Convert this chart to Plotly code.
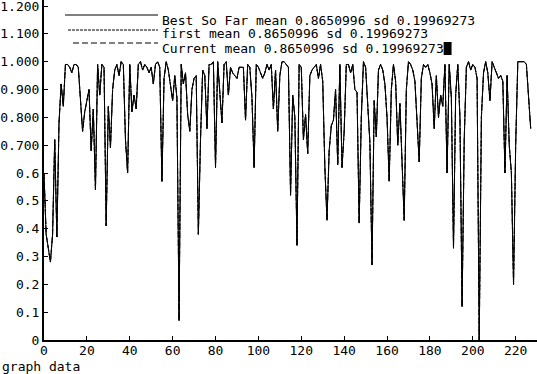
import plotly.graph_objects as go

# ---- data ----
values = [
    0.60, 0.38, 0.33, 0.28, 0.38, 0.72, 0.37, 0.78, 0.92, 0.84,
    0.99, 0.99, 0.98, 0.96, 0.99, 0.99, 0.98, 0.86, 0.75, 0.82,
    0.86, 0.90, 0.68, 0.83, 0.54, 0.99, 0.88, 0.99, 0.98, 0.41,
    0.84, 0.69, 0.90, 0.97, 0.99, 0.95, 1.00, 0.99, 0.72, 0.60,
    0.99, 0.82, 0.88, 0.83, 0.99, 1.00, 0.97, 0.99, 0.98, 0.96,
    0.98, 0.92, 0.99, 1.00, 0.98, 0.57, 0.94, 1.00, 0.97, 0.92,
    0.86, 0.95, 0.87, 0.07, 0.99, 0.92, 0.96, 0.81, 0.75, 0.90,
    0.94, 0.95, 0.38, 0.72, 0.97, 0.95, 0.76, 0.99, 0.99, 1.00,
    0.62, 1.00, 0.88, 0.78, 0.99, 1.00, 0.88, 0.98, 0.96, 0.95,
    0.94, 0.98, 0.98, 0.98, 0.79, 0.99, 0.98, 0.87, 0.62, 0.99,
    0.98, 0.96, 0.94, 0.96, 0.99, 0.97, 0.99, 0.83, 0.97, 0.75,
    0.95, 1.00, 1.00, 0.99, 0.98, 0.52, 0.88, 0.80, 0.34, 0.99,
    0.98, 0.72, 0.81, 0.67, 0.95, 0.97, 0.98, 0.99, 0.94, 0.99,
    0.93, 0.62, 0.43, 0.68, 0.77, 0.79, 0.90, 0.63, 0.99, 0.62,
    0.75, 0.99, 0.99, 0.96, 0.99, 0.90, 0.89, 0.42, 0.80, 1.00,
    0.98, 0.85, 0.71, 0.27, 0.86, 0.73, 0.97, 0.99, 0.97, 0.92,
    0.80, 0.57, 0.90, 0.99, 0.93, 0.70, 0.85, 0.64, 0.43, 0.90,
    1.00, 0.99, 0.97, 0.93, 0.80, 0.64, 0.94, 0.99, 0.98, 0.99,
    0.96, 0.92, 0.76, 0.95, 0.80, 0.88, 0.84, 0.99, 0.60, 0.99,
    0.87, 0.33, 0.88, 0.99, 0.80, 0.12, 0.72, 0.98, 1.00, 0.97,
    0.99, 0.98, 0.94, 0.00, 0.80, 0.96, 1.00, 0.96, 0.86, 1.00,
    0.98, 0.96, 0.94, 0.95, 0.93, 0.60, 0.95, 0.70, 0.60, 0.20,
    0.70, 1.00, 1.00, 1.00, 1.00, 0.99, 0.87, 0.76,
]
x_index = list(range(len(values)))

series_names = ["Best So Far", "first", "Current"]
series_dashes = ["solid", "3px,1px", "6px,3px"]
legend_texts = [
    "Best So Far mean 0.8650996 sd 0.19969273",
    "first mean 0.8650996 sd 0.19969273",
    "Current mean 0.8650996 sd 0.19969273\u2588",
]

y_tickvals = [0, 0.1, 0.2, 0.3, 0.4, 0.5, 0.6, 0.7, 0.8, 0.9, 1.0, 1.1, 1.2]
y_ticktext = ["0", "0.1", "0.2", "0.3", "0.4", "0.5", "0.6",
              "0.700", "0.800", "0.900", "1.000", "1.100", "1.200"]
x_tickvals = list(range(0, 221, 20))

FONT = "DejaVu Sans Mono"
FS = 13
W, H = 537, 374
ML, MT, MB, MR = 44, 0, 34, 0
PW, PH = W - ML - MR, H - MT - MB


def px(xp):
    return (xp - ML) / PW


def py(yp):
    return (H - MB - yp) / PH


fig = go.Figure()
for name, dash in zip(series_names, series_dashes):
    fig.add_trace(go.Scatter(
        x=x_index, y=values, mode="lines", name=name,
        line=dict(color="black", width=1, dash=dash),
        showlegend=False,
    ))

# custom legend
line_starts = [65, 68, 73]
line_ys = [15, 30, 43]
text_ys = [20, 34, 48]
for dash, x0, ly, ty, txt in zip(series_dashes, line_starts, line_ys, text_ys, legend_texts):
    fig.add_shape(type="line", xref="paper", yref="paper",
                  x0=px(x0), x1=px(158), y0=py(ly), y1=py(ly),
                  line=dict(color="black", width=1, dash=dash))
    fig.add_annotation(xref="paper", yref="paper", x=px(161), y=py(ty),
                       text=txt, showarrow=False, xanchor="left", yanchor="middle",
                       height=13, valign="middle", borderpad=0,
                       font=dict(family=FONT, size=FS, color="black"))

fig.add_annotation(xref="paper", yref="paper", x=px(0), y=py(366),
                   text="graph data", showarrow=False, xanchor="left", yanchor="middle",
                   font=dict(family=FONT, size=FS, color="black"))

fig.update_layout(
    width=W, height=H,
    margin=dict(l=ML, r=MR, t=MT, b=MB, pad=0, autoexpand=False),
    paper_bgcolor="white", plot_bgcolor="white",
    font=dict(family=FONT, size=FS, color="black"),
    showlegend=False,
)
fig.update_xaxes(
    range=[0, PW / 2.144], tickvals=x_tickvals, automargin=False,
    showgrid=False, zeroline=False, showline=True, linecolor="black", linewidth=2,
    ticks="inside", ticklen=4, tickcolor="black", tickwidth=1,
    tickfont=dict(family=FONT, size=FS, color="black"),
    ticklabelstandoff=-3, ticklabeloverflow="allow",
)
fig.update_yaxes(
    range=[0, PH / 278.3], tickvals=y_tickvals, ticktext=y_ticktext, automargin=False,
    showgrid=False, zeroline=False, showline=True, linecolor="black", linewidth=2,
    ticks="inside", ticklen=4, tickcolor="black", tickwidth=1,
    tickfont=dict(family=FONT, size=FS, color="black"),
    ticklabeloverflow="allow",
)

fig.write_html(
    "out.html",
    config={"displayModeBar": False},
    post_script="document.body.style.margin='0';document.body.style.overflow='hidden';",
)
